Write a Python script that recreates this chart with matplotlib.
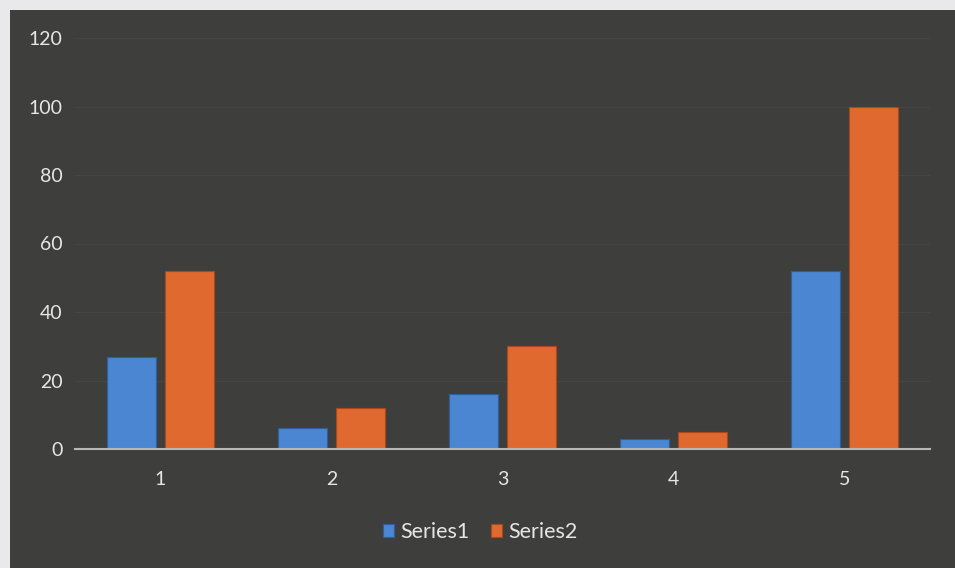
import matplotlib.pyplot as plt
import numpy as np
from matplotlib.patches import Rectangle

categories = ['1', '2', '3', '4', '5']
series1 = [27, 6, 16, 3, 52]
series2 = [52, 12, 30, 5, 100]
y_ticks = [0, 20, 40, 60, 80, 100, 120]

bg = '#3e3f3c'
blue = '#4a86d2'
orange = '#e0692f'
text_col = '#e6e6e6'


def main():
    plt.rcParams['font.family'] = ['Lato', 'DejaVu Sans']
    fig = plt.figure(figsize=(9.55, 5.68), dpi=100)
    fig.patch.set_facecolor('#e9e9ec')

    # dark chart panel behind the axes
    fig.patches.append(Rectangle((10 / 955, 0), 1, 558 / 568,
                                 transform=fig.transFigure,
                                 facecolor=bg, edgecolor='none', zorder=-10))

    ax = fig.add_axes([75 / 955, 119 / 568, 855 / 955, 411 / 568])
    ax.set_facecolor('none')

    x = np.arange(1, len(categories) + 1)
    w = 0.29
    ax.bar(x - 0.17, series1, w, color=blue, label='Series1', zorder=3,
           edgecolor='#2d5f9e', linewidth=0.8)
    ax.bar(x + 0.17, series2, w, color=orange, label='Series2', zorder=3,
           edgecolor='#a8481c', linewidth=0.8)

    ax.set_xlim(0.5, 5.5)
    ax.set_ylim(0, 120)
    ax.set_yticks(y_ticks)
    ax.set_xticks(x)
    ax.set_xticklabels(categories)
    ax.yaxis.grid(True, color='#454643', linewidth=0.8)
    ax.set_axisbelow(True)

    for s in ['top', 'right', 'left']:
        ax.spines[s].set_visible(False)
    ax.spines['bottom'].set_color('#b9b9b4')
    ax.spines['bottom'].set_linewidth(1.5)
    ax.spines['bottom'].set_zorder(4)

    ax.tick_params(axis='both', length=0, colors=text_col, labelsize=14)
    ax.tick_params(axis='y', pad=9)
    ax.tick_params(axis='x', pad=16)

    handles, labels = ax.get_legend_handles_labels()
    leg = fig.legend(handles, labels, loc='center', bbox_to_anchor=(0.503, 0.063),
                     ncol=2, frameon=False, fontsize=15.5, handlelength=0.5,
                     handleheight=0.5, handletextpad=0.3, columnspacing=1.0)
    for t in leg.get_texts():
        t.set_color(text_col)

    fig.savefig('out.png', dpi=100, facecolor=fig.get_facecolor())


if __name__ == '__main__':
    main()
